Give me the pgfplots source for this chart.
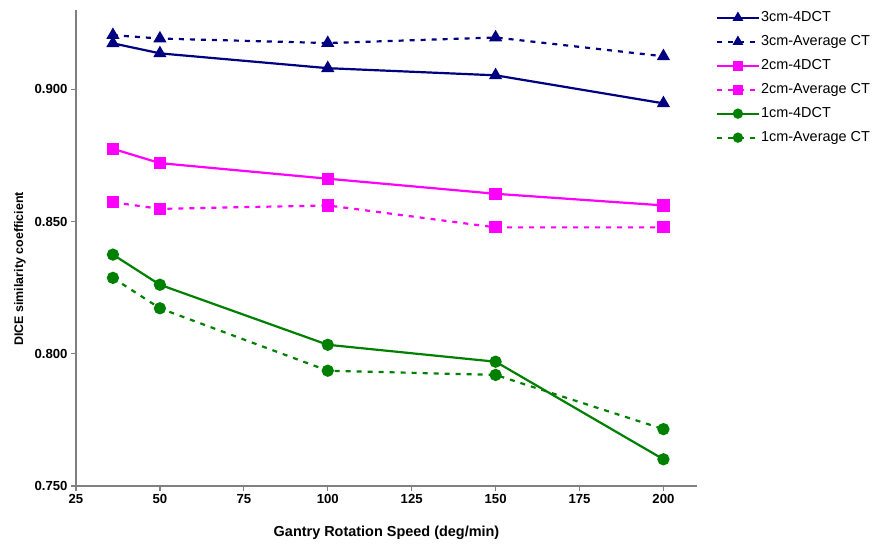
\documentclass[border=0pt]{standalone}
\usepackage{fontspec}
\setmainfont{Liberation Sans}
\usepackage{pgfplots}
\usepackage{pgfplotstable}
\pgfplotsset{compat=1.18}
\definecolor{navyc}{RGB}{0,0,128}
\definecolor{magc}{RGB}{255,0,255}
\definecolor{greenc}{RGB}{0,128,0}
\definecolor{axgray}{RGB}{128,128,128}
\pgfplotstableread{
x   tF      tA      sF      sA      oF      oA
36  0.9174  0.9205  0.8775  0.8573  0.8375  0.8287
50  0.9136  0.9192  0.8721  0.8548  0.8261  0.8172
100 0.9080  0.9175  0.8662  0.8561  0.8034  0.7936
150 0.9053  0.9196  0.8605  0.8478  0.7970  0.7920
200 0.8947  0.9125  0.8561  0.8478  0.7601  0.7715
}\data
\begin{document}
\begin{tikzpicture}
\begin{axis}[
  scale only axis, width=621bp, height=476bp,
  xmin=25, xmax=210, ymin=0.75, ymax=0.93,
  axis x line*=bottom, axis y line*=left,
  axis line style={axgray, line width=1.3bp, -},
  xtick={25,50,...,200}, ytick={0.75,0.8,0.85,0.9},
  tick align=outside, major tick length=5bp,
  tick style={axgray, line width=1.3bp},
  /pgf/number format/assume math mode=true,
  tick label style={font=\fontsize{13.2}{15}\selectfont\bfseries},
  yticklabel style={/pgf/number format/.cd, fixed, fixed zerofill, precision=3},
  every axis y label/.style={at={(axis description cs:-0.0902,0.456)}, rotate=90, anchor=center, font=\fontsize{12.5}{15}\selectfont\bfseries},
  every axis x label/.style={at={(axis description cs:0.5,-0.0987)}, anchor=center, font=\fontsize{14.5}{17}\selectfont\bfseries},
  ylabel={DICE similarity coefficient},
  xlabel={Gantry Rotation Speed (deg/min)},
  clip=false,
  legend style={at={(1.03,1)}, anchor=north west, draw=none, fill=none,
    font=\fontsize{14.5}{17}\selectfont, inner sep=0pt, row sep=9bp,
    nodes={inner sep=1pt, text height=10.5bp, text depth=2.5bp},
    cells={anchor=west}},
  legend image code/.code={\draw[line width=2.2bp, mark repeat=2, mark phase=2, mark size=4bp] plot coordinates {(0bp,0bp) (21bp,0bp) (42bp,0bp)};},
  mark options={solid},
]
\addplot[navyc, line width=2.2bp, mark=triangle*, mark size=5.5bp] table[x=x,y=tF]{\data};
\addlegendentry{3cm-4DCT}
\addplot[navyc, line width=2.2bp, dash pattern=on 5bp off 6bp, mark=triangle*, mark size=5.5bp, mark options={solid}] table[x=x,y=tA]{\data};
\addlegendentry{3cm-Average CT}
\addplot[magc, line width=2.2bp, mark=square*, mark size=5bp] table[x=x,y=sF]{\data};
\addlegendentry{2cm-4DCT}
\addplot[magc, line width=2.2bp, dash pattern=on 5bp off 6bp, mark=square*, mark size=5bp, mark options={solid}] table[x=x,y=sA]{\data};
\addlegendentry{2cm-Average CT}
\addplot[greenc, line width=2.2bp, mark=*, mark size=5bp] table[x=x,y=oF]{\data};
\addlegendentry{1cm-4DCT}
\addplot[greenc, line width=2.2bp, dash pattern=on 5bp off 6bp, mark=*, mark size=5bp, mark options={solid}] table[x=x,y=oA]{\data};
\addlegendentry{1cm-Average CT}
\end{axis}
\pgfresetboundingbox
\path (current axis.south west) ++(-76bp,-60bp) rectangle ++(872bp,546bp);
\end{tikzpicture}
\end{document}
